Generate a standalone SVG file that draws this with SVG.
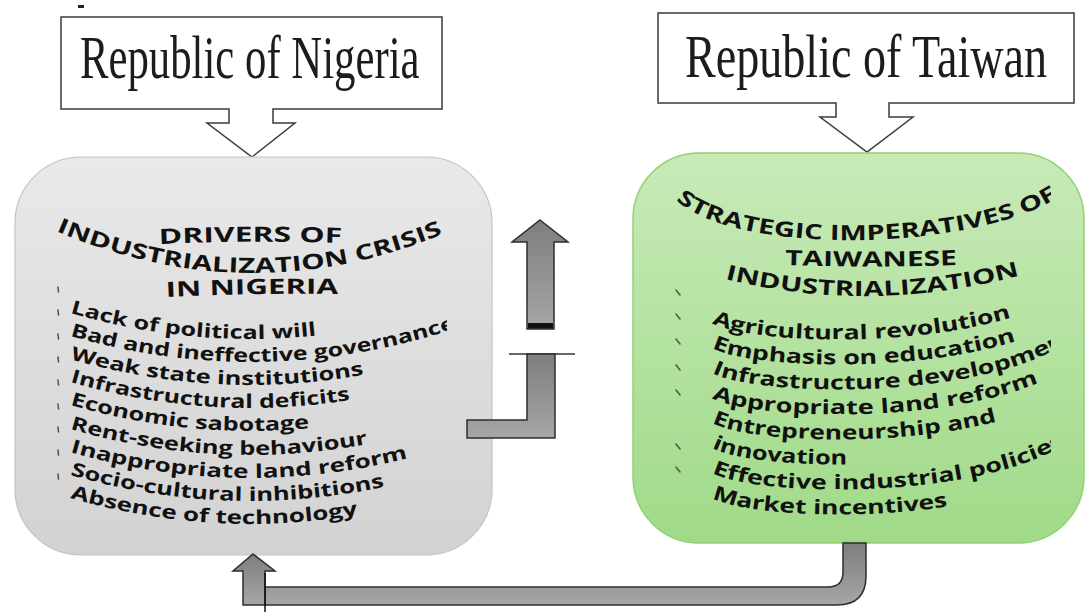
<svg xmlns="http://www.w3.org/2000/svg" width="1090" height="612" viewBox="0 0 1090 612">
<defs>
  <linearGradient id="gGray" x1="0" y1="0" x2="0" y2="1">
    <stop offset="0" stop-color="#e9e9e9"/><stop offset="1" stop-color="#d2d2d2"/>
  </linearGradient>
  <linearGradient id="gGreen" x1="0" y1="0" x2="0" y2="1">
    <stop offset="0" stop-color="#c8eab8"/><stop offset="1" stop-color="#a0da88"/>
  </linearGradient>
  <linearGradient id="gArrow" x1="0" y1="0" x2="0" y2="1">
    <stop offset="0" stop-color="#7e7e7e"/><stop offset="1" stop-color="#a6a6a6"/>
  </linearGradient>
  <clipPath id="clipN"><rect x="0" y="150" width="447" height="420"/></clipPath>
  <clipPath id="clipT"><rect x="620" y="150" width="431" height="400"/></clipPath>
  <path id="pN1" d="M159,244 Q251,240 344,243"/>
  <path id="pN2" d="M56,231 Q253,315 450,231"/>
  <path id="pN3" d="M166,297 Q252,293 338,294"/>
  <path id="nl0" d="M70,313 Q265,369 460,304"/>
  <path id="nl1" d="M70,336 Q265,392 460,327"/>
  <path id="nl2" d="M70,359 Q265,415 460,350"/>
  <path id="nl3" d="M70,382 Q265,438 460,373"/>
  <path id="nl4" d="M70,405 Q265,461 460,396"/>
  <path id="nl5" d="M70,429 Q265,485 460,420"/>
  <path id="nl6" d="M70,452 Q265,508 460,443"/>
  <path id="nl7" d="M70,475 Q265,531 460,466"/>
  <path id="nl8" d="M70,498 Q265,554 460,489"/>
  <path id="pT1" d="M676,200 C740,258 980,250 1060,196"/>
  <path id="pT2" d="M785,265 Q871,268 957,265"/>
  <path id="pT3" d="M725,279 Q871,315 1022,275"/>
  <path id="tl0" d="M712,323 C760,348 990,350 1070,290"/>
  <path id="tl1" d="M712,348 C760,373 990,375 1070,315"/>
  <path id="tl2" d="M712,373 C760,398 990,400 1070,340"/>
  <path id="tl3" d="M712,398 C760,423 990,425 1070,365"/>
  <path id="tl4" d="M712,423 C760,448 990,450 1070,390"/>
  <path id="tl5" d="M712,448 C760,473 990,475 1070,415"/>
  <path id="tl6" d="M712,473 C760,498 990,500 1070,440"/>
  <path id="tl7" d="M712,498 C760,523 990,525 1070,465"/>
</defs>
<style>
  .hdr{font-family:"Liberation Serif","DejaVu Serif",serif;font-size:62px;fill:#1c1c1c}
  .ttl{font-family:"Open Sans","DejaVu Sans",sans-serif;font-weight:700;font-size:21px;fill:#111}
  .li{font-family:"Open Sans","DejaVu Sans",sans-serif;font-weight:700;font-size:19px;fill:#111}
  .li2{font-family:"Open Sans","DejaVu Sans",sans-serif;font-weight:700;font-size:20px;fill:#111}
  .callout{fill:#fff;stroke:#3a3a3a;stroke-width:1.5}
  .arr{fill:url(#gArrow);stroke:#2e2e2e;stroke-width:1.5;stroke-linejoin:miter}
  .bul{stroke:#555;stroke-width:1.6;stroke-linecap:round}
</style>
<rect x="78" y="5" width="6" height="3" fill="#222"/>

<g id="nigeria-header">
  <path class="callout" d="M61,17 H442 V109 H273 V123 H295 L252,157 L207,123 H229 V109 H61 Z"/>
  <text class="hdr" transform="translate(80,78) scale(0.69,1)" x="0" y="0" textLength="492" lengthAdjust="spacingAndGlyphs">Republic of Nigeria</text>
</g>

<g id="taiwan-header">
  <path class="callout" d="M658,13 H1074 V103 H889 V117 H913 L867,152 L820,117 H836 V103 H658 Z"/>
  <text class="hdr" transform="translate(685,77) scale(0.736,1)" x="0" y="0" textLength="492" lengthAdjust="spacingAndGlyphs">Republic of Taiwan</text>
</g>

<g id="nigeria-drivers">
  <rect x="15" y="157" width="477" height="398" rx="66" ry="66" fill="url(#gGray)" stroke="#c4c4c4" stroke-width="1.2"/>
  <g clip-path="url(#clipN)">
    <text class="ttl"><textPath href="#pN1" textLength="183" lengthAdjust="spacingAndGlyphs">DRIVERS OF</textPath></text>
    <text class="ttl"><textPath href="#pN2" textLength="398" lengthAdjust="spacingAndGlyphs">INDUSTRIALIZATION CRISIS</textPath></text>
    <text class="ttl"><textPath href="#pN3" textLength="172" lengthAdjust="spacingAndGlyphs">IN NIGERIA</textPath></text>
    <text class="li"><textPath href="#nl0" textLength="249" lengthAdjust="spacingAndGlyphs">Lack of political will</textPath></text>
    <text class="li"><textPath href="#nl1" textLength="392" lengthAdjust="spacingAndGlyphs">Bad and ineffective governance</textPath></text>
    <text class="li"><textPath href="#nl2" textLength="297" lengthAdjust="spacingAndGlyphs">Weak state institutions</textPath></text>
    <text class="li"><textPath href="#nl3" textLength="283" lengthAdjust="spacingAndGlyphs">Infrastructural deficits</textPath></text>
    <text class="li"><textPath href="#nl4" textLength="242" lengthAdjust="spacingAndGlyphs">Economic sabotage</textPath></text>
    <text class="li"><textPath href="#nl5" textLength="301" lengthAdjust="spacingAndGlyphs">Rent-seeking behaviour</textPath></text>
    <text class="li"><textPath href="#nl6" textLength="342" lengthAdjust="spacingAndGlyphs">Inappropriate land reform</textPath></text>
    <text class="li"><textPath href="#nl7" textLength="318" lengthAdjust="spacingAndGlyphs">Socio-cultural inhibitions</textPath></text>
    <text class="li"><textPath href="#nl8" textLength="291" lengthAdjust="spacingAndGlyphs">Absence of technology</textPath></text>
  </g>
  <g class="bul">
    <line x1="58" y1="287" x2="58.5" y2="292"/>
    <line x1="58" y1="310" x2="58.5" y2="315"/>
    <line x1="58" y1="334" x2="58.5" y2="339"/>
    <line x1="58" y1="357" x2="58.5" y2="362"/>
    <line x1="58" y1="380" x2="58.5" y2="385"/>
    <line x1="58" y1="404" x2="58.5" y2="409"/>
    <line x1="58" y1="427" x2="58.5" y2="432"/>
    <line x1="58" y1="450" x2="58.5" y2="455"/>
    <line x1="58" y1="474" x2="58.5" y2="479"/>
  </g>
</g>

<g id="taiwan-imperatives">
  <rect x="633" y="153" width="451" height="390" rx="66" ry="66" fill="url(#gGreen)" stroke="#8fd36f" stroke-width="1.5"/>
  <g clip-path="url(#clipT)">
    <text class="ttl"><textPath href="#pT1" textLength="396" lengthAdjust="spacingAndGlyphs">STRATEGIC IMPERATIVES OF</textPath></text>
    <text class="ttl"><textPath href="#pT2" textLength="172" lengthAdjust="spacingAndGlyphs">TAIWANESE</textPath></text>
    <text class="ttl"><textPath href="#pT3" textLength="298" lengthAdjust="spacingAndGlyphs">INDUSTRIALIZATION</textPath></text>
    <text class="li2"><textPath href="#tl0" textLength="303" lengthAdjust="spacingAndGlyphs">Agricultural revolution</textPath></text>
    <text class="li2"><textPath href="#tl1" textLength="308" lengthAdjust="spacingAndGlyphs">Emphasis on education</textPath></text>
    <text class="li2"><textPath href="#tl2" textLength="375" lengthAdjust="spacingAndGlyphs">Infrastructure development</textPath></text>
    <text class="li2"><textPath href="#tl3" textLength="332" lengthAdjust="spacingAndGlyphs">Appropriate land reform</textPath></text>
    <text class="li2"><textPath href="#tl4" textLength="288" lengthAdjust="spacingAndGlyphs">Entrepreneurship and</textPath></text>
    <text class="li2"><textPath href="#tl5" textLength="137" lengthAdjust="spacingAndGlyphs">innovation</textPath></text>
    <text class="li2"><textPath href="#tl6" textLength="362" lengthAdjust="spacingAndGlyphs">Effective industrial policies</textPath></text>
    <text class="li2"><textPath href="#tl7" textLength="238" lengthAdjust="spacingAndGlyphs">Market incentives</textPath></text>
  </g>
  <g class="bul">
    <line x1="676" y1="290" x2="680" y2="295"/>
    <line x1="676" y1="314" x2="680" y2="319"/>
    <line x1="676" y1="339" x2="680" y2="344"/>
    <line x1="676" y1="365" x2="680" y2="370"/>
    <line x1="676" y1="390" x2="680" y2="395"/>
    <line x1="676" y1="444" x2="680" y2="449"/>
    <line x1="676" y1="467" x2="680" y2="472"/>
  </g>
</g>

<g id="connectors">
  <path class="arr" d="M540,220 L568,242 L554,242 L554,329 L527,329 L527,242 L512,242 Z"/>
  <rect x="528" y="323" width="25" height="5.5" fill="#111"/>
  <line x1="509" y1="354" x2="575" y2="354" stroke="#333" stroke-width="1.5"/>
  <path class="arr" d="M527,354 H555 V438 H467 V420 H527 Z"/>
  <path class="arr" d="M265,587 H828 Q843,587 843,572 V543 H866 V576 Q866,605 837,605 H265 Z"/>
  <path class="arr" d="M253,554 L275,571 L265,571 L265,605 L243,605 L243,571 L233,571 Z"/>
  <line x1="265" y1="573" x2="265" y2="612" stroke="#111" stroke-width="1.5"/>
</g>
</svg>
